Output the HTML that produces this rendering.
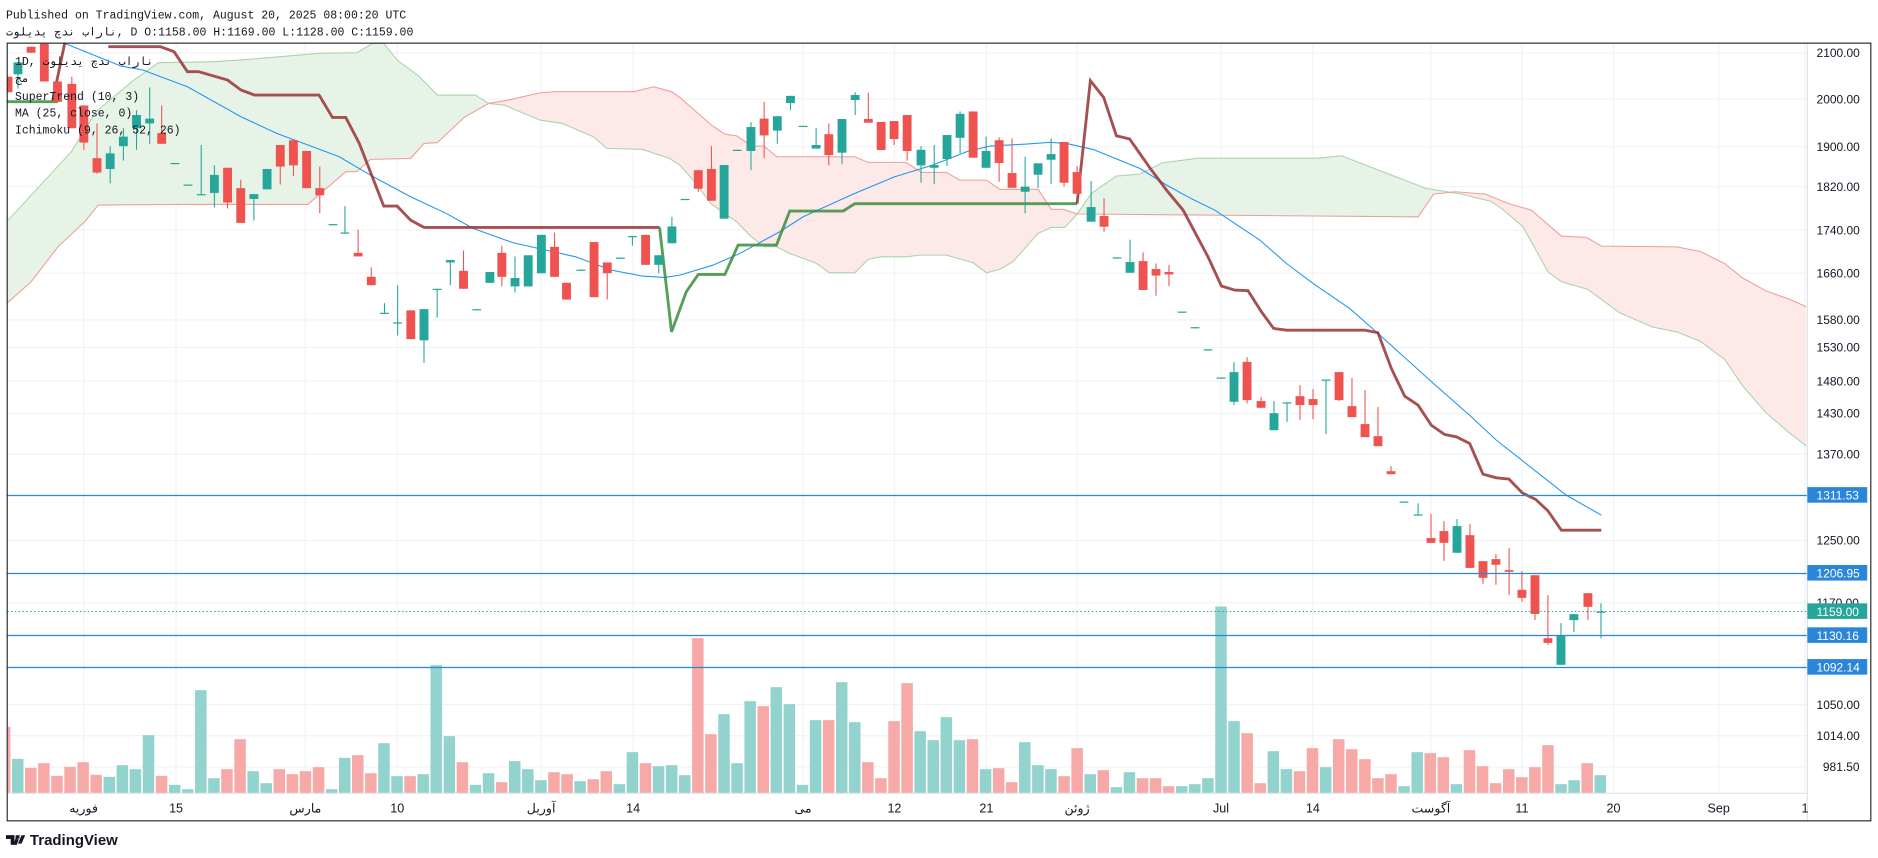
<!DOCTYPE html>
<html><head><meta charset="utf-8"><style>
html,body{margin:0;padding:0;background:#fff;width:1878px;height:858px;overflow:hidden}
svg{display:block}
.ax{font-family:"Liberation Sans","Noto Sans CJK SC",sans-serif;font-size:10px;fill:#131722}
.tl{font-family:"Liberation Sans","Noto Sans CJK SC",sans-serif;font-size:10.5px;fill:#131722;text-anchor:middle}
.mono{font-family:"Liberation Mono","DejaVu Sans Mono",monospace;font-size:9.6px;fill:#131722}
.bx{font-family:"Liberation Sans",sans-serif;font-size:10px;fill:#fff}
</style></head><body>
<svg id="s" width="1878" height="858" viewBox="0 0 1568 716" preserveAspectRatio="none" xmlns="http://www.w3.org/2000/svg">
<rect x="0" y="0" width="1568" height="716" fill="#fff"/>
<text class="mono" x="5" y="15.5">Published on TradingView.com, August 20, 2025 08:00:20 UTC</text>
<text class="mono" x="5" y="29.8"><tspan style="unicode-bidi:bidi-override;direction:ltr">تولیدی چدن باران</tspan>, D O:1158.00 H:1169.00 L:1128.00 C:1159.00</text>
<g id="grid" stroke="#f0f2f5" stroke-width="1"></g>
<g id="cloud"></g>
<g id="vol"></g>
<g id="lines" fill="none"></g>
<g id="candles"></g>
<g id="hl"></g>
<text class="mono" x="12.5" y="54.3">1D, <tspan style="unicode-bidi:bidi-override;direction:ltr">تولیدی چدن باران</tspan></text>
<text class="mono" x="12.5" y="68.3">مج</text>
<text class="mono" x="12.5" y="83.5">SuperTrend (10, 3)</text>
<text class="mono" x="12.5" y="97.4">MA (25, close, 0)</text>
<text class="mono" x="12.5" y="111.4">Ichimoku (9, 26, 52, 26)</text>
<line x1="1509" y1="36" x2="1509" y2="685" stroke="#e0e3eb" stroke-width="1"/>
<line x1="6" y1="662" x2="1509" y2="662" stroke="#e0e3eb" stroke-width="1"/>
<g id="axl"></g>
<text class="ax" x="1516.7" y="47.7">2100.00</text>
<text class="ax" x="1516.7" y="86.5">2000.00</text>
<text class="ax" x="1516.7" y="125.9">1900.00</text>
<text class="ax" x="1516.7" y="159.5">1820.00</text>
<text class="ax" x="1516.7" y="195.5">1740.00</text>
<text class="ax" x="1516.7" y="231.5">1660.00</text>
<text class="ax" x="1516.7" y="270.5">1580.00</text>
<text class="ax" x="1516.7" y="293.5">1530.00</text>
<text class="ax" x="1516.7" y="321.5">1480.00</text>
<text class="ax" x="1516.7" y="348.5">1430.00</text>
<text class="ax" x="1516.7" y="382.5">1370.00</text>
<text class="ax" x="1516.7" y="454.5">1250.00</text>
<text class="ax" x="1516.7" y="506.5">1170.00</text>
<text class="ax" x="1516.7" y="591.5">1050.00</text>
<text class="ax" x="1516.7" y="617.5">1014.00</text>
<text class="ax" x="1522" y="643.5">981.50</text>
<rect x="1509" y="406.5" width="50" height="13" fill="#2a86d8"/><text class="bx" x="1516.7" y="416.9">1311.53</text>
<rect x="1509" y="471.5" width="50" height="13" fill="#2a86d8"/><text class="bx" x="1516.7" y="481.9">1206.95</text>
<rect x="1509" y="503.5" width="50" height="13" fill="#26a69a"/><text class="bx" x="1516.7" y="513.9">1159.00</text>
<rect x="1509" y="523.5" width="50" height="13" fill="#2a86d8"/><text class="bx" x="1516.7" y="533.9">1130.16</text>
<rect x="1509" y="550" width="50" height="13" fill="#2a86d8"/><text class="bx" x="1516.7" y="560.4">1092.14</text>
<text class="tl" x="69.8" y="678">فوریه</text>
<text class="tl" x="147" y="678">15</text>
<text class="tl" x="255" y="678">مارس</text>
<text class="tl" x="331.7" y="678">10</text>
<text class="tl" x="451.8" y="678">آوریل</text>
<text class="tl" x="528.6" y="678">14</text>
<text class="tl" x="670.5" y="678">می</text>
<text class="tl" x="746.8" y="678">12</text>
<text class="tl" x="823.6" y="678">21</text>
<text class="tl" x="899.3" y="678">ژوئن</text>
<text class="tl" x="1019.5" y="678">Jul</text>
<text class="tl" x="1096.2" y="678">14</text>
<text class="tl" x="1194.7" y="678">آگوست</text>
<text class="tl" x="1270.7" y="678">11</text>
<text class="tl" x="1347.2" y="678">20</text>
<text class="tl" x="1435" y="678">Sep</text>
<text class="tl" x="1507" y="678">1</text>
<rect x="6" y="36" width="1556" height="649" fill="none" stroke="#131722" stroke-width="0.9"/>
<g transform="translate(5,694)"><path d="M0 3h7v8h-3v-5h-4z M9 3l3 0 -3 8h-3z M10 3a1.7 1.7 0 1 0 0.01 0" fill="#131722"/></g>
<path d="M5 697h7v7h-3v-4h-4z" fill="#131722"/>
<circle cx="14.5" cy="698.5" r="1.6" fill="#131722"/>
<path d="M15 704l3-7h3l-3 7z" fill="#131722"/>
<text x="25" y="705" style="font-family:'Liberation Sans',sans-serif;font-size:12.5px;font-weight:bold;fill:#131722">TradingView</text>
</svg>
<script>
const NS="http://www.w3.org/2000/svg";
function el(p,t,a){const e=document.createElementNS(NS,t);for(const k in a)e.setAttribute(k,a[k]);document.getElementById(p).appendChild(e);return e;}
// grid
[44.2,82.6,122.4,155.8,192,228,267,290,318,345,379,451,503,588,614,640].forEach(y=>el("grid","line",{x1:6,x2:1509,y1:y,y2:y}));
[69.8,147,255,331.7,451.8,528.6,670.5,746.8,823.6,899.3,1019.5,1096.2,1194.7,1270.7,1347.2,1435,1507].forEach(x=>el("grid","line",{x1:x,x2:x,y1:36,y2:662}));
const A=[[5.6,185],[59.6,126.6],[80,93.2],[111.8,66.8],[132.3,52.3],[178.8,51.5],[208.6,49.5],[266.4,44.5],[298,44],[311,36.2],[320.4,36.2],[331.6,50.1],[350.2,64],[365.1,79.3],[396.8,79.3],[408,86.3],[421,87.7],[450.8,100.2],[469.4,103],[495.5,114.1],[506.7,123.8],[536.5,124.7],[558.9,132.2],[567.6,137.7],[578.7,150.3],[594,170.3],[614.9,185],[627.4,197.6],[638.6,205.9],[648.3,205.9],[659.4,211.5],[681.7,219.8],[692.3,227.6],[713.7,227.6],[724.8,216.5],[735.9,214.3],[756.8,214.3],[768,212.9],[790.2,212.9],[812.5,219.3],[823.6,227.6],[834.7,224.8],[845.8,218.4],[866.7,194.8],[877.8,189.8],[889,189.8],[899.3,178.6],[911.2,161.4],[932.1,146.9],[951.6,145.3],[970,136],[1000,132],[1100,132],[1120,130],[1190,157],[1220,162],[1245,168],[1255,175],[1271.6,189.2],[1292.4,226.8],[1303.6,235.1],[1325.8,241.5],[1352.2,261],[1380,273],[1400,277],[1420,285],[1440,300],[1455,322],[1475,345],[1495,362],[1508,372]];
const B=[[5.6,253.2],[26,235.1],[48.4,205.9],[70.8,185],[82,171.1],[149,170.6],[257,170.6],[288.7,143.3],[298,143.3],[309.2,133],[342.8,132.2],[354,119.7],[365.1,119.1],[387.5,98],[408,86.3],[424.7,83.5],[450.8,77.4],[463.8,76.5],[529,76.5],[545.8,72.4],[560.7,76.5],[567.6,81.3],[594,104.4],[605.2,111.9],[615.5,113.5],[627.4,121.9],[637.7,121.9],[648.8,130.8],[713.7,130.8],[724.8,135.5],[756.8,135.5],[769.3,143.9],[790.2,143.9],[801.3,150.3],[823.6,150.3],[834.7,158],[866.7,158],[877.8,174.7],[887.6,174.7],[899.3,178.6],[951.6,179],[1184,181],[1197,162],[1215,160],[1240,162],[1260,170],[1278.5,175.3],[1303.6,197],[1324.5,198.1],[1337,205.4],[1400,206],[1420,210],[1440,220],[1455,232],[1475,243],[1495,250],[1508,256]];
function ip(a,x){for(let i=0;i<a.length-1;i++){if(x>=a[i][0]&&x<=a[i+1][0]){const t=(x-a[i][0])/(a[i+1][0]-a[i][0]||1);return a[i][1]+t*(a[i+1][1]-a[i][1]);}}return x<a[0][0]?a[0][1]:a[a.length-1][1];}
[[5.6,408,"#e8f3e8"],[408,899.3,"#fde9e8"],[899.3,1218,"#e8f3e8"],[1218,1508,"#fde9e8"]].forEach(([x0,x1,c])=>{
 let xs=[x0,x1];A.concat(B).forEach(p=>{if(p[0]>x0&&p[0]<x1)xs.push(p[0]);});xs.sort((a,b)=>a-b);
 const pts=xs.map(x=>x+","+ip(A,x)).concat(xs.slice().reverse().map(x=>x+","+ip(B,x)));
 el("cloud","polygon",{points:pts.join(" "),fill:c});});
const pl=a=>a.map(p=>p.join(",")).join(" ");
el("cloud","polyline",{points:pl(A),fill:"none",stroke:"#a9d4aa","stroke-width":0.9});
el("cloud","polyline",{points:pl(B),fill:"none",stroke:"#ef9e9b","stroke-width":0.9});
// volume
const V=[[-1,"r",320],[0,"g",416],[1,"r",443],[2,"r",429],[3,"r",467],[4,"r",440],[5,"r",426],[6,"r",464],[7,"g",470],[8,"g",435],[9,"g",447],[10,"g",345],[11,"r",467],[12,"g",494],[13,"g",507],[14,"g",210],[15,"g",474],[16,"r",447],[17,"r",357],[18,"g",453],[19,"g",489],[20,"r",447],[21,"r",462],[22,"r",453],[23,"r",441],[24,"g",507],[25,"g",413],[26,"r",405],[27,"r",459],[28,"g",369],[29,"g",468],[30,"r",468],[31,"g",462],[32,"g",135],[33,"g",348],[34,"r",426],[35,"g",494],[36,"g",459],[37,"r",486],[38,"g",423],[39,"g",447],[40,"g",480],[41,"r",456],[42,"r",462],[43,"g",483],[44,"r",477],[45,"r",453],[46,"g",492],[47,"g",396],[48,"r",429],[49,"g",438],[50,"g",435],[51,"g",465],[52,"r",54]];
let vs="r342 g282 g429 g243 r258 g201 g252 g494 g300 r300 g186 g306 r426 r474 r303 r189 g333 g360 g291 g360 r357 g447 r444 r486 g366 g435 g447 r468 r384 g462 r450 g501 g456 r474 r474 r498 g498 g492 g474 g-41 g303 r339 r489 g393 g447 r453 r384 g441 r357 r387 r417 r474 r462 g498 g396 r399 r411 g492 r390 r438 r489 r447 r471 r441 r375 g492 g480 r429 g465".split(" ");
vs.forEach((s,i)=>V.push([53+i,s[0],+s.slice(1)]));
V.forEach(([i,c,zy])=>{const x=14.8+10.92*i;const top=517.5+zy/3.594;let x0=Math.max(6.5,x-4.8);
 el("vol","rect",{x:x0,y:top,width:x+4.8-x0,height:662-top,fill:c=="g"?"#92d3cd":"#f6a9a7"});});
// horizontal lines
[413.5,478.6,530.3,557].forEach(y=>el("hl","line",{x1:6,x2:1509,y1:y,y2:y,stroke:"#2a86d8","stroke-width":1}));
el("hl","line",{x1:6,x2:1509,y1:510.3,y2:510.3,stroke:"#26a69a","stroke-width":0.8,"stroke-dasharray":"1.2,2"});
// MA
const MA=[[54,36.2],[100.6,55],[119.2,58.4],[156.5,72.4],[201.2,97.4],[231,111.3],[260.8,122.4],[283.2,130.8],[309.2,146.1],[342.8,164.2],[372.6,178.1],[395,190.6],[428.5,202.6],[480.6,214.3],[510.4,225.4],[536.5,230.4],[555.1,231.5],[567.6,229.6],[595.4,221.2],[617.7,211.5],[651,193.4],[670.6,180.9],[713.7,161.4],[747,147.5],[779,137.7],[806.9,126.6],[826.4,121.9],[857,120.2],[876.5,118.8],[890.4,119.7],[912.6,124.7],[951.6,140.5],[975,155],[995,166],[1014.2,175.3],[1051.8,200.3],[1074,219.8],[1096.3,236.5],[1126.9,257.4],[1150.5,278.2],[1193.7,317.2],[1228.4,347.8],[1249.3,367.3],[1268.8,382.6],[1307.7,413.2],[1337,429.9]];
el("lines","polyline",{points:pl(MA),stroke:"#2196f3","stroke-width":0.9});
// supertrend
const br="rgba(150,50,50,0.85)",gr="rgba(56,142,60,0.85)";
el("lines","polyline",{points:pl([[6,84.9],[48.4,84.9]]),stroke:gr,"stroke-width":2.4});
el("lines","polyline",{points:pl([[44,84],[54,36.2]]),stroke:br,"stroke-width":2.4});
el("lines","polyline",{points:pl([[90.4,39],[134,39],[145.3,43.1],[156.5,59.8],[165.8,59.8],[190,66.8],[201.2,75.1],[212.4,79.3],[266.4,79.3],[277.6,98],[288.7,98],[300,119.7],[320.4,172],[331.6,172],[342.8,183.7],[354,189.8],[550.7,189.8]]),stroke:br,"stroke-width":2.4});
el("lines","polyline",{points:pl([[550.7,189.8],[560.7,277],[573,243.5],[583,229],[605.2,229],[616.3,204.5],[648.3,204.5],[659.4,176.1],[704,176.1],[713.7,170],[899.3,170]]),stroke:gr,"stroke-width":2.4});
el("lines","polyline",{points:pl([[899.3,170],[910.4,67.3],[921.5,81.3],[932.1,113.3],[943.2,116],[951.6,128],[960,140],[975,160],[987.8,175.3],[1008.6,214.3],[1019.8,238.7],[1030.9,242.1],[1042,242.6],[1053.2,260.2],[1063.4,274.1],[1074,275.5],[1139.4,275.5],[1150.5,277.7],[1161.7,307.5],[1172.8,330.6],[1184,338.1],[1195,354.8],[1206.2,362.6],[1216,364.5],[1227.1,370.1],[1238.2,395.7],[1249.3,398.7],[1259.9,399.8],[1271,411.3],[1282.2,416.8],[1292.4,426.3],[1303.6,442.4],[1337,442.4]]),stroke:br,"stroke-width":2.4});
// candles [x,top,bot,high,low,green]
const C=[[6.7,64,77,64,77,0],[15,52,62,52,74,1],[26,39,44,39,44,0],[37,36.5,68,36.5,68,0],[48,68,85,68,85,0],[60,70,107,64,107,0],[70,88,119,88,125,0],[81,132,144,103,145,0],[92,128,141,122,153,1],[103,114,122,107,134,1],[114,96,107,92,125,1],[125,99,103,73,120,1],[135,111,120,88,120,0],[146,136,137,136,137,1],[157,154,155,154,155,1],[168,162,163,121,163,1],[179,146,161,138,173,1],[190,140,169,140,174,0],[201,157,186,150,186,0],[212,162,166,162,184,1],[223,141,158,141,158,1],[234,121,139,121,154,0],[245,117,138,117,147,0],[256,126,157,126,157,0],[267,157,163,139,178,0],[278,187,188,187,188,1],[288,194,195,172,195,1],[299,211,214,192,214,0],[310,231,238,223,238,0],[321,261,262,253,262,1],[332,269,270,238,280,1],[343,259,283,259,283,0],[354,258,284,258,303,1],[365,241,242,241,265,1],[376,217,219,217,238,1],[387,226,241,209,241,0],[398,258,259,258,259,1],[409,227,236,227,236,1],[419,211,231,205,239,0],[430,232,239,214,244,1],[441,213,239,213,239,1],[452,196,228,196,228,1],[463,206,231,194,231,0],[473,236,250,236,250,0],[485,225,226,225,226,1],[496,202,248,202,248,0],[507,219,228,219,250,0],[518,215,216,215,216,1],[528,197,198,197,205,1],[539,196,221,196,221,0],[550,213,221,213,228,1],[561,189,203,181,203,1],[572,166,167,166,167,1],
[583,142,157.5,142,160,0],[594,141,167.5,122,167.5,0],[604.6,137.7,182.5,137.7,182.5,1],[615.5,125,126,125,126,1],[627,106,126,102,142,1],[638,99,113,85,132,0],[649,97,109,97,120,1],[660,80,86,80,92,1],[670.5,105,106,105,106,1],[681.4,121,124,107,124,1],[692,112,129.4,103,138,0],[703,99.3,127.4,99.3,137,1],[714,79.3,83.5,77,96,1],[725,99.3,102.4,77.4,102.4,0],[735.7,101.8,125.2,101.8,125.2,0],[746.5,101,116,101,121,0],[757.4,96,126,96,134,0],[769,125,138,122,152.5,1],[780,137.7,140,121,153.6,1],[790.7,112.7,132.7,112.7,138.6,1],[801.6,95,115,93,128,1],[812.5,93,131.6,93,131.6,0],[823.3,126,140,114,140,1],[834.2,117,136,114.6,151.7,0],[845,144.4,156.7,115.5,156.7,0],[855.9,155.8,160,130.8,178,1],[866.7,136.3,145.8,136.3,156.7,1],[877.6,128.6,133.3,115.5,153.6,1],[888.4,118.5,152.5,118.5,155.8,0],[899.3,143.6,161.7,138.6,161.7,0],[911,172.8,185,151,185,1],[921.8,180.3,189.2,165.6,193.4,0],[932.7,214.8,215.8,214.8,215.8,1],
[943.5,218.7,227.6,200,227.6,1],[954.4,217.9,242,210.6,242,0],[965.2,224.5,230,219.8,246.8,0],[976,227,229,221,239,0],[987,260,261,260,261,1],[997.8,273,274,273,274,1],[1008.6,291.5,292.5,291.5,292.5,1],[1019.5,315,316,315,316,1],[1030.3,310.5,335.3,302.2,338,1],[1041.2,302,333.9,298,336.7,0],[1052.9,334.7,340.3,331.4,340.3,0],[1063.7,344.8,359,334.7,359,1],[1074.6,335.8,336.8,335.8,352,1],[1085.4,330.6,338,321.4,350.6,0],[1096.3,333,338,324.7,349.8,0],[1107.1,316.7,317.7,316.7,362.3,1],[1118,310.5,333.9,310.5,334.7,0],[1128.8,338.9,348.1,315.5,348.1,0],[1139.7,353.9,364.8,325.5,364.8,0],[1150.5,364,372.3,339.7,372.3,0],[1161.4,393.2,395.7,389,395.7,0],[1172.2,418.5,419.5,418.5,419.5,1],[1184,429.3,430.3,420,430.3,1],[1194.8,449,453,429,453,0],[1205.6,443.2,453,434.9,468,0],[1216.5,439,461.3,433.2,461.3,1],[1227.3,446.6,473.9,437.4,473.9,0],[1238.2,468.3,482.2,468.3,487.2,0],[1249,466.6,471.3,462.4,488,0],[1260,475.8,477.2,457.4,496.4,0],[1270.7,492.2,498.9,476.6,502.2,0],[1281.6,480,512.3,480,517.3,0],[1292.4,532.6,536.5,496.7,538.1,0],[1303.3,530,554.8,520,554.8,1],[1314.1,512.5,517.5,512.5,527.5,1],[1325.8,495,506.4,495,517.5,0],[1336.7,510.3,511.4,503.4,532.6,1]];
C.forEach(([x,t,b,h,l,g])=>{const c=g?"#26a69a":"#ef5350";
 if(l-h>0.5)el("candles","line",{x1:x,x2:x,y1:h,y2:l,stroke:c,"stroke-width":0.9});
 let x0=Math.max(6.5,x-3.7);el("candles","rect",{x:x0,y:t,width:x+3.7-x0,height:Math.max(1,b-t),fill:c});});
</script>
</body></html>
